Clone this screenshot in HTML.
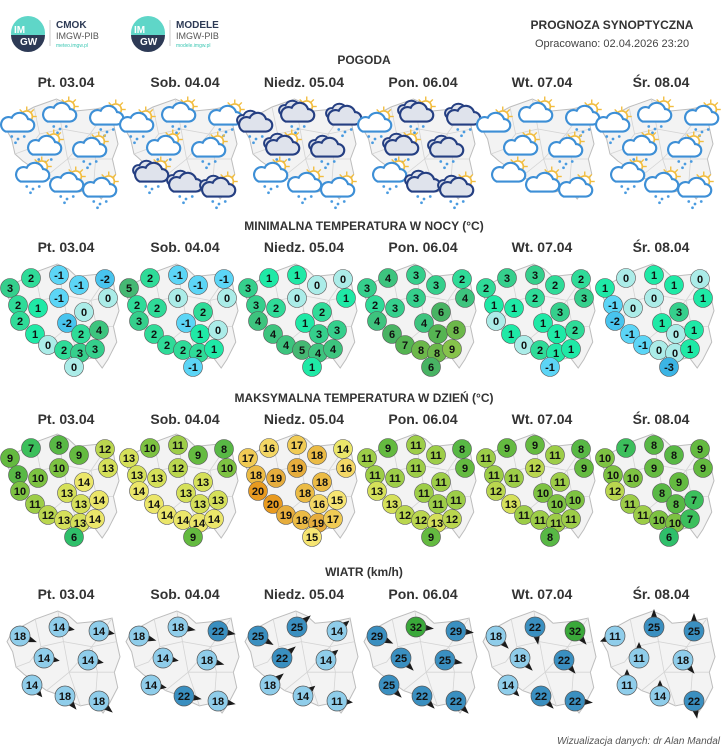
<!DOCTYPE html>
<html><head><meta charset="utf-8"><style>
html,body{margin:0;padding:0;background:#fff}
svg{display:block;font-family:"Liberation Sans",sans-serif}
</style></head><body>
<svg id="s" width="728" height="752" viewBox="0 0 728 752">
<g>
<circle cx="28" cy="33" r="17" fill="#5fd6c8"/><path d="M11,35 A17,17 0 0 0 45,35 Z" fill="#2d3a55"/>
<text x="14" y="33" font-size="10" font-weight="bold" fill="#fff">IM</text><text x="20" y="45" font-size="10" font-weight="bold" fill="#fff">GW</text>
<line x1="50" y1="20" x2="50" y2="46" stroke="#ccc"/>
<text x="56" y="28" font-size="10" font-weight="bold" fill="#2d3a55">CMOK</text>
<text x="56" y="39" font-size="9" fill="#555">IMGW-PIB</text>
<text x="56" y="47" font-size="5" fill="#3cc7b3">meteo.imgw.pl</text></g>
<g>
<circle cx="148" cy="33" r="17" fill="#5fd6c8"/><path d="M131,35 A17,17 0 0 0 165,35 Z" fill="#2d3a55"/>
<text x="134" y="33" font-size="10" font-weight="bold" fill="#fff">IM</text><text x="140" y="45" font-size="10" font-weight="bold" fill="#fff">GW</text>
<line x1="170" y1="20" x2="170" y2="46" stroke="#ccc"/>
<text x="176" y="28" font-size="10" font-weight="bold" fill="#2d3a55">MODELE</text>
<text x="176" y="39" font-size="9" fill="#555">IMGW-PIB</text>
<text x="176" y="47" font-size="5" fill="#3cc7b3">modele.imgw.pl</text></g>
<text x="612" y="29" font-size="12" font-weight="bold" fill="#333" text-anchor="middle">PROGNOZA SYNOPTYCZNA</text>
<text x="612" y="47" font-size="11" fill="#444" text-anchor="middle">Opracowano: 02.04.2026 23:20</text>
<text x="364" y="64" font-size="12" font-weight="bold" fill="#333" text-anchor="middle">POGODA</text>
<text x="364" y="230" font-size="12" font-weight="bold" fill="#333" text-anchor="middle">MINIMALNA TEMPERATURA W NOCY (°C)</text>
<text x="364" y="402" font-size="12" font-weight="bold" fill="#333" text-anchor="middle">MAKSYMALNA TEMPERATURA W DZIEŃ (°C)</text>
<text x="364" y="576" font-size="12" font-weight="bold" fill="#333" text-anchor="middle">WIATR (km/h)</text>
<text x="720" y="744" font-size="10" font-style="italic" fill="#555" text-anchor="end">Wizualizacja danych: dr Alan Mandal</text>
</svg>
<script>
const days=["Pt. 03.04","Sob. 04.04","Niedz. 05.04","Pon. 06.04","Wt. 07.04","Śr. 08.04"];
const minTemps=[
[2,-1,-1,-2,3,0,-1,2,1,0,-2,2,1,2,4,0,2,3,3,0],
[2,-1,-1,-1,5,0,0,2,2,2,-1,3,2,1,0,2,2,2,1,-1],
[1,1,0,0,3,1,0,3,2,2,1,4,4,3,3,4,5,4,4,1],
[4,3,3,2,3,4,3,2,3,6,4,4,6,7,8,7,8,8,9,6],
[3,3,2,2,2,3,2,1,1,3,1,0,1,1,2,0,2,1,1,-1],
[0,1,1,0,1,1,0,-1,0,3,1,-2,-1,0,1,-1,0,0,1,-3]];
const maxTemps=[
[7,8,9,12,9,13,10,8,10,14,13,10,11,13,14,12,13,13,14,6],
[10,11,9,8,13,10,12,13,13,13,13,14,14,13,13,14,14,14,14,9],
[16,17,18,14,17,16,19,18,19,18,18,20,20,16,15,19,18,19,17,15],
[9,11,11,8,11,9,11,11,11,11,11,13,13,11,11,12,12,13,12,9],
[9,9,11,8,11,9,12,11,11,11,10,12,13,10,10,11,11,11,11,8],
[7,8,8,9,10,9,9,10,10,9,8,12,11,8,7,11,10,10,7,6]];
const windSpeeds=[
[18,14,14,14,14,14,18,18],
[18,18,22,14,18,14,22,18],
[25,25,14,22,14,18,14,11],
[29,32,29,25,25,25,22,22],
[18,22,32,18,22,14,22,22],
[11,25,25,11,18,11,14,22]];
const windDirs=[
[20,10,10,10,10,50,50,40],
[15,10,10,10,15,10,10,10],
[30,-40,-40,-40,-40,-40,-40,5],
[25,5,5,45,10,45,45,45],
[45,80,50,45,50,45,45,5],
[160,-90,-90,-90,50,-90,-90,80]];
const weather=[
["L","L","L","L","L","L","L","L"],
["L","L","L","L","L","D","D","D"],
["D","D","D","D","D","L","L","L"],
["L","D","D","D","D","L","D","D"],
["P","P","L","P","L","P","P","P"],
["L","L","L","L","L","L","L","L"]];
// layout (not data)
const tempPos=[[31,16],[59,13],[79,23],[105,17],[10,26],[108,36],[59,36],[18,43],[38,46],[84,50],[67,61],[20,59],[35,72],[81,72],[99,68],[48,83],[64,88],[80,91],[95,87],[74,105]];
const windPos=[[20,26],[59,17],[99,21],[44,48],[88,50],[32,75],[65,86],[99,91]];
const wxPos=[[18,27],[60,17],[107,20],[45,50],[90,52],[33,77],[67,87],[100,92]];
const COLW=119;
const NS="http://www.w3.org/2000/svg";
const svg=document.getElementById('s');
function mk(t,a,p){const e=document.createElementNS(NS,t);for(const k in a)e.setAttribute(k,a[k]);(p||svg).appendChild(e);return e;}
const poly=[[0.05,0.2],[0.25,0.08],[0.45,0.0],[0.55,0.05],[0.62,0.12],[0.8,0.1],[0.93,0.07],[0.97,0.3],[1.0,0.45],[0.95,0.6],[0.98,0.75],[0.9,0.92],[0.85,1.0],[0.78,0.9],[0.65,0.93],[0.55,0.88],[0.45,0.82],[0.35,0.78],[0.25,0.7],[0.15,0.62],[0.08,0.55],[0.05,0.4],[0.0,0.3]];
const inner=[[[0.25,0.08],[0.3,0.35],[0.2,0.5],[0.08,0.55]],[[0.45,0.0],[0.5,0.3],[0.75,0.35],[0.93,0.07]],[[0.3,0.35],[0.5,0.3],[0.55,0.6],[0.35,0.78]],[[0.55,0.6],[0.75,0.35],[0.97,0.3]],[[0.55,0.6],[0.65,0.93]],[[0.55,0.6],[0.95,0.6]],[[0.75,0.35],[0.8,0.6],[0.78,0.9]]];
function drawMap(g,x0,y0,w,h){
 mk('polygon',{points:poly.map(p=>(x0+p[0]*w)+','+(y0+p[1]*h)).join(' '),fill:'#f3f3f3',stroke:'#bdbdbd','stroke-width':1},g);
 inner.forEach(l=>mk('polyline',{points:l.map(p=>(x0+p[0]*w)+','+(y0+p[1]*h)).join(' '),fill:'none',stroke:'#d4d4d4','stroke-width':0.8},g));
}
const minCol={"-3":"#3bb4e4","-2":"#48c4ee","-1":"#5cd5f6","0":"#abece8","1":"#1fe9a6","2":"#2fdb98","3":"#35cf8c","4":"#3dc47e","5":"#45b873","6":"#48b363","7":"#55b452","8":"#6cb84a","9":"#86c24b"};
const maxCol={"6":"#2fbf6a","7":"#3cbf5c","8":"#58b845","9":"#64ba40","10":"#7dc242","11":"#9dcd48","12":"#bad64f","13":"#d5e05a","14":"#ebe66a","15":"#f6e572","16":"#f4d765","17":"#f0cb55","18":"#ebbb45","19":"#e6ad3d","20":"#e89a20"};
function windCol(v){return v>=32?"#3aa83a":(v>=22?"#3a8fc0":"#8fcdea");}
const rows=[{y:87,name:'weather'},{y:252,name:'min-temp'},{y:424,name:'max-temp'},{y:599,name:'wind'}];
rows.forEach(r=>days.forEach((d,i)=>{
 const t=mk('text',{x:66+i*COLW,y:r.y,'font-size':14,'font-weight':'bold',fill:'#333','text-anchor':'middle'});
 
 
 t.textContent=d;
}));
function tempMaps(data,cols,top,nm){
 data.forEach((vals,i)=>{
  const g=mk('g',{});
  
  
  const ox=i*COLW;
  drawMap(g,ox+7,top+2,112,104);
  vals.forEach((v,j)=>{
   const p=tempPos[j];
   const c=mk('circle',{cx:ox+p[0],cy:top+p[1],r:9.5,fill:cols[v]||'#ccc',stroke:'#555','stroke-width':0.6},g);
   
   
   const t=mk('text',{x:ox+p[0],y:top+p[1]+4,'font-size':11,'font-weight':'bold',fill:'#111','text-anchor':'middle'},g);
   t.textContent=v;
  });
 });
}
weather.forEach((codes,i)=>{
 const g=mk('g',{});
 
 
 const ox=i*COLW,top=97;
 drawMap(g,ox+6,top+2,112,100);
 codes.forEach((c,j)=>{
  const X=ox+wxPos[j][0],Y=top+wxPos[j][1];
  const ic=mk('g',{transform:`translate(${X},${Y}) scale(1.25)`},g);
  
  
  const x=0,y=0;
  if(c!=='D'||j%2){for(let k=0;k<8;k++){const a=k*Math.PI/4;mk('line',{x1:x+7+Math.cos(a)*5,y1:y-6+Math.sin(a)*5,x2:x+7+Math.cos(a)*8,y2:y-6+Math.sin(a)*8,stroke:'#f2bd3f','stroke-width':1.1},ic);}
   mk('circle',{cx:x+7,cy:y-6,r:4.5,fill:'#fff',stroke:'#f2bd3f','stroke-width':1.3},ic);}
  const sc=c==='D'?'#253f82':'#3d8fd6',fl=c==='D'?'#dfe3ec':'#fff';
  if(c==='D') mk('path',{d:`M${x-12},${y+1} a4,4 0 0 1 2,-8 a6,6 0 0 1 11,0 z`,fill:fl,stroke:sc,'stroke-width':1.6},ic);
  mk('path',{d:`M${x-10},${y+6} h18 a5,5 0 0 0 0,-10 a7,7 0 0 0 -13,-1 a5.5,5.5 0 0 0 -5,11 z`,fill:fl,stroke:sc,'stroke-width':1.7},ic);
  if(c!=='P') [[-5,10],[0,12],[5,10],[-2,15]].forEach(q=>mk('circle',{cx:x+q[0],cy:y+q[1],r:1.1,fill:'#4a9be0'},ic));
 });
});
tempMaps(minTemps,minCol,262,'min-temp');
tempMaps(maxTemps,maxCol,432,'max-temp');
windSpeeds.forEach((vals,i)=>{
 const g=mk('g',{});
 
 
 const ox=i*COLW,top=610;
 drawMap(g,ox+7,top+1,113,102);
 vals.forEach((v,j)=>{
  const x=ox+windPos[j][0],y=top+windPos[j][1];
  const a=windDirs[i][j]*Math.PI/180,ca=Math.cos(a),sa=Math.sin(a);
  const L=v<=14?16:18;
  const ar=mk('polygon',{points:[[x+ca*L,y+sa*L],[x+ca*7-sa*4,y+sa*7+ca*4],[x+ca*7+sa*4,y+sa*7-ca*4]].map(p=>p.join(',')).join(' '),fill:'#1a1a1a'},g);
  
  
  const c=mk('circle',{cx:x,cy:y,r:10,fill:windCol(v),stroke:'#555','stroke-width':0.7},g);
  
  
  const t=mk('text',{x:x,y:y+4,'font-size':11,'font-weight':'bold',fill:'#111','text-anchor':'middle'},g);
  t.textContent=v;
 });
});
</script>
</body></html>
